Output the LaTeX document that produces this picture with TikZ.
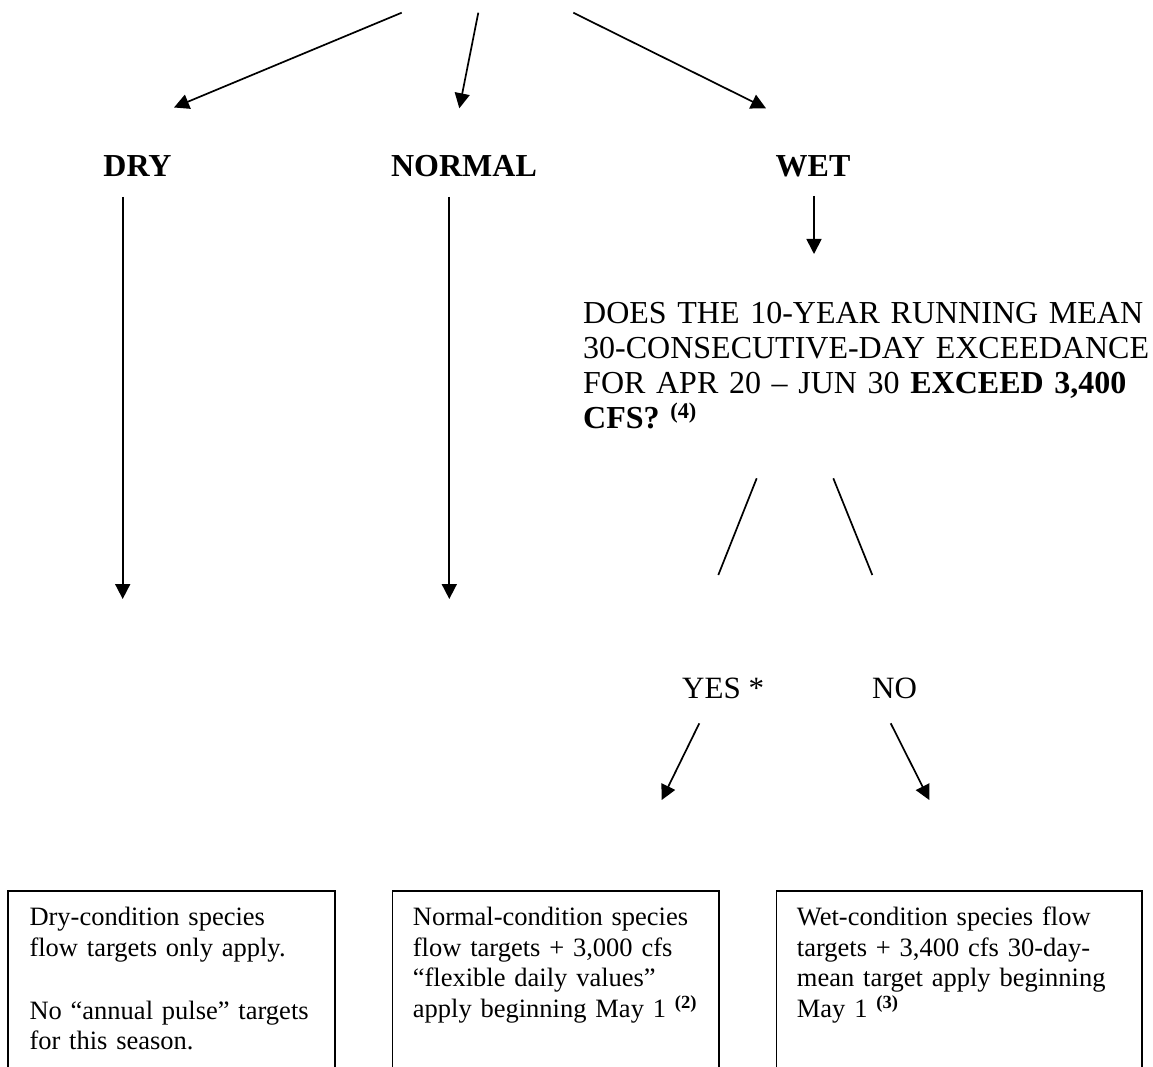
\documentclass[tikz,border=0pt]{standalone}
\usepackage{fontspec}
\setmainfont{Liberation Serif}
\usetikzlibrary{arrows.meta}
\begin{document}
\begin{tikzpicture}[x=1pt,y=-1pt,
  conn/.style={line width=1.7pt},
  arr/.style={conn,-{Triangle[length=15pt,width=15pt]}},
  cond/.style={font=\fontsize{32}{35}\selectfont\bfseries, inner sep=0pt, anchor=base},
  ans/.style={font=\fontsize{31}{35}\selectfont, inner sep=0pt, anchor=base west},
  question/.style={font=\fontsize{32}{35}\selectfont, text width=570pt, align=left, inner sep=0pt, anchor=base west},
  outcome/.style={draw, line width=1.7pt, anchor=north west, minimum height=220pt, inner sep=0pt},
  boxtext/.style={font=\fontsize{26.5}{30.5}\selectfont, text width=335pt, align=left, inner sep=0pt, anchor=base west}
]
\useasboundingbox (0,0) rectangle (1153,1067);

% condition labels
\node[cond] (dry) at (137.5,177) {DRY};
\node[cond] (normal) at (464,177) {NORMAL};
\node[cond] (wet) at (813,177) {WET};

% branches coming in from above
\coordinate (srcdry) at (401.7,12.7);
\coordinate (srcnormal) at (478.3,12.7);
\coordinate (srcwet) at (573.3,12.7);
\coordinate (tipdry) at (174,107.5);
\coordinate (tipnormal) at (459.3,108.3);
\coordinate (tipwet) at (766,108.3);
\draw[arr] (srcdry) -- (tipdry);
\draw[arr] (srcnormal) -- (tipnormal);
\draw[arr] (srcwet) -- (tipwet);

% long drops below DRY and NORMAL
\coordinate (drytop) at (122.7,197);
\coordinate (dryend) at (122.7,599);
\coordinate (normaltop) at (449.3,197);
\coordinate (normalend) at (449.3,599);
\draw[arr] (drytop) -- (dryend);
\draw[arr] (normaltop) -- (normalend);

% question under WET
\coordinate (wettop) at (814,196);
\coordinate (wetend) at (814,254);
\draw[arr] (wettop) -- (wetend);
\node[question] (q) at (583,323) {DOES THE 10-YEAR RUNNING MEAN\\30-CONSECUTIVE-DAY EXCEEDANCE\\FOR APR 20 – JUN 30 \textbf{EXCEED 3,400}\\\textbf{CFS?} \textsuperscript{\textbf{(4)}}};

% yes / no split
\coordinate (qyes) at (756.7,478.3);
\coordinate (yestop) at (718.3,575);
\coordinate (qno) at (833.3,478.3);
\coordinate (notop) at (872.3,575);
\draw[conn] (qyes) -- (yestop);
\draw[conn] (qno) -- (notop);
\node[ans] (yes) at (682,698) {YES *};
\node[ans] (no) at (872,698) {NO};

\coordinate (yesfrom) at (699.3,723.3);
\coordinate (yestip) at (661.7,800);
\coordinate (nofrom) at (890.7,723.3);
\coordinate (notip) at (929.3,800);
\draw[arr] (yesfrom) -- (yestip);
\draw[arr] (nofrom) -- (notip);

% outcome boxes
\node[outcome, minimum width=327pt] (boxdry) at (7.3,890) {};
\node[outcome, minimum width=326.6pt] (boxnormal) at (391.7,890) {};
\node[outcome, minimum width=365.3pt] (boxwet) at (775.7,890) {};

\node[boxtext] (tdry) at (29.3,925.7) {Dry-condition species\\flow targets only apply.\\[32.5pt]No “annual pulse” targets\\for this season.};
\node[boxtext] (tnormal) at (412.7,925.7) {Normal-condition species\\flow targets + 3,000 cfs\\“flexible daily values”\\apply beginning May 1 \textsuperscript{\textbf{(2)}}};
\node[boxtext] (twet) at (796.7,925.7) {Wet-condition species flow\\targets + 3,400 cfs 30-day-\\mean target apply beginning\\May 1 \textsuperscript{\textbf{(3)}}};
\end{tikzpicture}
\end{document}
